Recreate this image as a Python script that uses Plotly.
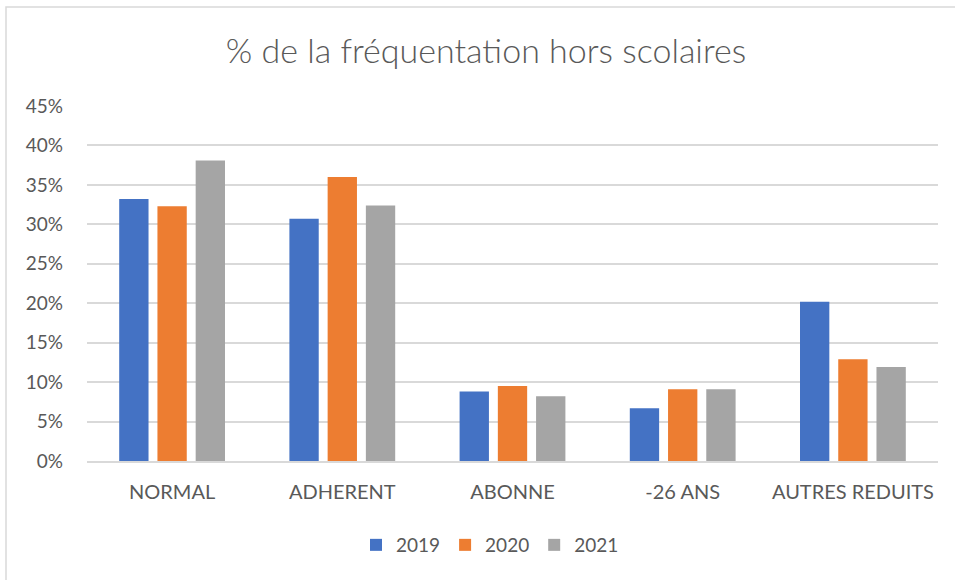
import plotly.graph_objects as go

categories = ["NORMAL", "ADHERENT", "ABONNE", "-26 ANS", "AUTRES REDUITS"]
years = ["2019", "2020", "2021"]
values_2019 = [0.332, 0.307, 0.088, 0.067, 0.202]
values_2020 = [0.323, 0.360, 0.095, 0.091, 0.129]
values_2021 = [0.381, 0.324, 0.082, 0.091, 0.119]
colors = ["#4472C4", "#ED7D31", "#A5A5A5"]

FONT = "Lato, 'Open Sans', sans-serif"
TXT = "#595959"

fig = go.Figure()
for name, vals, col in zip(years, [values_2019, values_2020, values_2021], colors):
    fig.add_trace(go.Bar(x=categories, y=vals, name=name, marker_color=col,
                         marker_line_width=0))

W, H = 955, 580
ml, mr, mt, mb = 87, 17, 106, 119
pw, ph = W - ml - mr, H - mt - mb

fig.update_layout(
    width=W, height=H,
    margin=dict(l=ml, r=mr, t=mt, b=mb, pad=0),
    paper_bgcolor="white", plot_bgcolor="white",
    title=dict(text="% de la fréquentation hors scolaires", x=486 / W, xanchor="center",
               y=1 - 51 / H, yanchor="middle", xref="container",
               font=dict(family=FONT, size=34, color=TXT, weight=300)),
    barmode="group", bargap=0.326, bargroupgap=0.233,
    font=dict(family=FONT, size=20, color=TXT),
    legend=dict(orientation="h", x=(490 - ml) / pw, xanchor="center",
                y=-(545 - (mt + ph)) / ph, yanchor="middle", itemwidth=30,
                font=dict(family=FONT, size=19, color=TXT), itemclick=False),
    xaxis=dict(showgrid=False, showline=True, linecolor="#D9D9D9", linewidth=1.5,
               ticks="", ticklabelstandoff=12, tickfont=dict(size=20, color=TXT)),
    yaxis=dict(range=[0, 0.45], dtick=0.05, tickformat=".0%", showgrid=True,
               gridcolor="#D9D9D9", gridwidth=1.5, zeroline=False, showline=False,
               ticks="", ticklabelstandoff=23, tickfont=dict(size=19, color=TXT)),
    shapes=[dict(type="rect", xref="paper", yref="paper",
                 x0=(6 - ml) / pw, x1=(W + 20 - ml) / pw,
                 y0=-(H + 20 - mt - ph) / ph, y1=(mt + ph - 7) / ph,
                 line=dict(color="#D9D9D9", width=1.5), layer="below")],
)

fig.write_html("out.html", config={"displayModeBar": False},
               post_script="document.body.style.margin='0';document.body.style.overflow='hidden';")
